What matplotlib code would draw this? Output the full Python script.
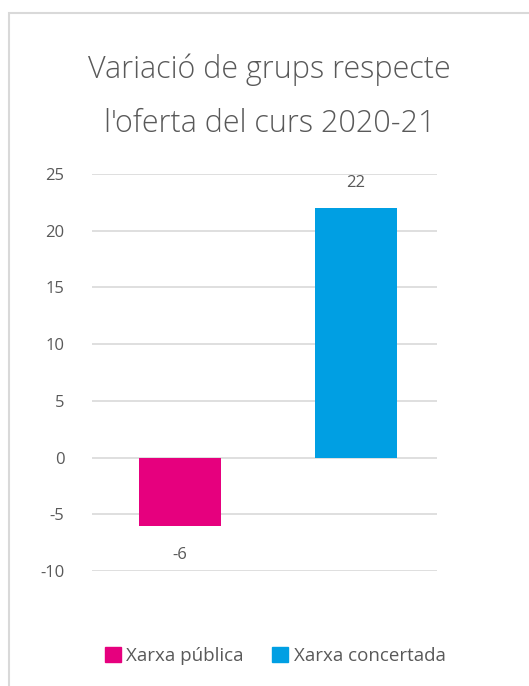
import matplotlib.pyplot as plt
from matplotlib.patches import Rectangle

categories = ['Xarxa pública', 'Xarxa concertada']
values = [-6, 22]
colors = ['#E6007E', '#009FE3']
yticks = [-10, -5, 0, 5, 10, 15, 20, 25]

plt.rcParams['font.family'] = ['Open Sans', 'DejaVu Sans']
text_color = '#595959'
grid_color = '#d9d9d9'

fig = plt.figure(figsize=(5.29, 6.86), dpi=100)
ax = fig.add_axes([0.174, 0.1676, 0.652, 0.5788])

x = [0, 1]
ax.bar(x, values, width=0.466, color=colors, zorder=3)
ax.set_xlim(-0.5, 1.46)
ax.set_ylim(-10, 25)
ax.set_yticks(yticks)
ax.set_yticklabels([str(t) for t in yticks], fontsize=12, color=text_color)
ax.set_xticks([])
ax.tick_params(axis='y', length=0, pad=20)
for s in ax.spines.values():
    s.set_visible(False)
ax.grid(axis='y', color=grid_color, linewidth=1.2, zorder=0)

# data labels
for xi, v in zip(x, values):
    if v >= 0:
        ax.text(xi, v + 2.2, str(v), ha='center', va='center', fontsize=12, color=text_color)
    else:
        ax.text(xi, v - 2.6, str(v), ha='center', va='center', fontsize=12, color=text_color)

fig.text(0.51, 0.898, 'Variació de grups respecte', ha='center', va='center',
         fontsize=22, color=text_color, fontweight='light')
fig.text(0.51, 0.819, "l'oferta del curs 2020-21", ha='center', va='center',
         fontsize=22, color=text_color, fontweight='light')

handles = [Rectangle((0, 0), 1, 1, color=c) for c in colors]
fig.legend(handles, categories, loc='center', bbox_to_anchor=(0.52, 0.044),
           ncol=2, frameon=False, fontsize=13.5, handlelength=0.85, handleheight=0.85,
           handletextpad=0.3, columnspacing=1.5, labelcolor=text_color)

fig.patches.append(Rectangle((9 / 529, -0.05), 1.1, 1 - 13 / 686 + 0.05,
                             transform=fig.transFigure, fill=False,
                             edgecolor=grid_color, linewidth=1.5))

fig.savefig('out.png', dpi=100)
